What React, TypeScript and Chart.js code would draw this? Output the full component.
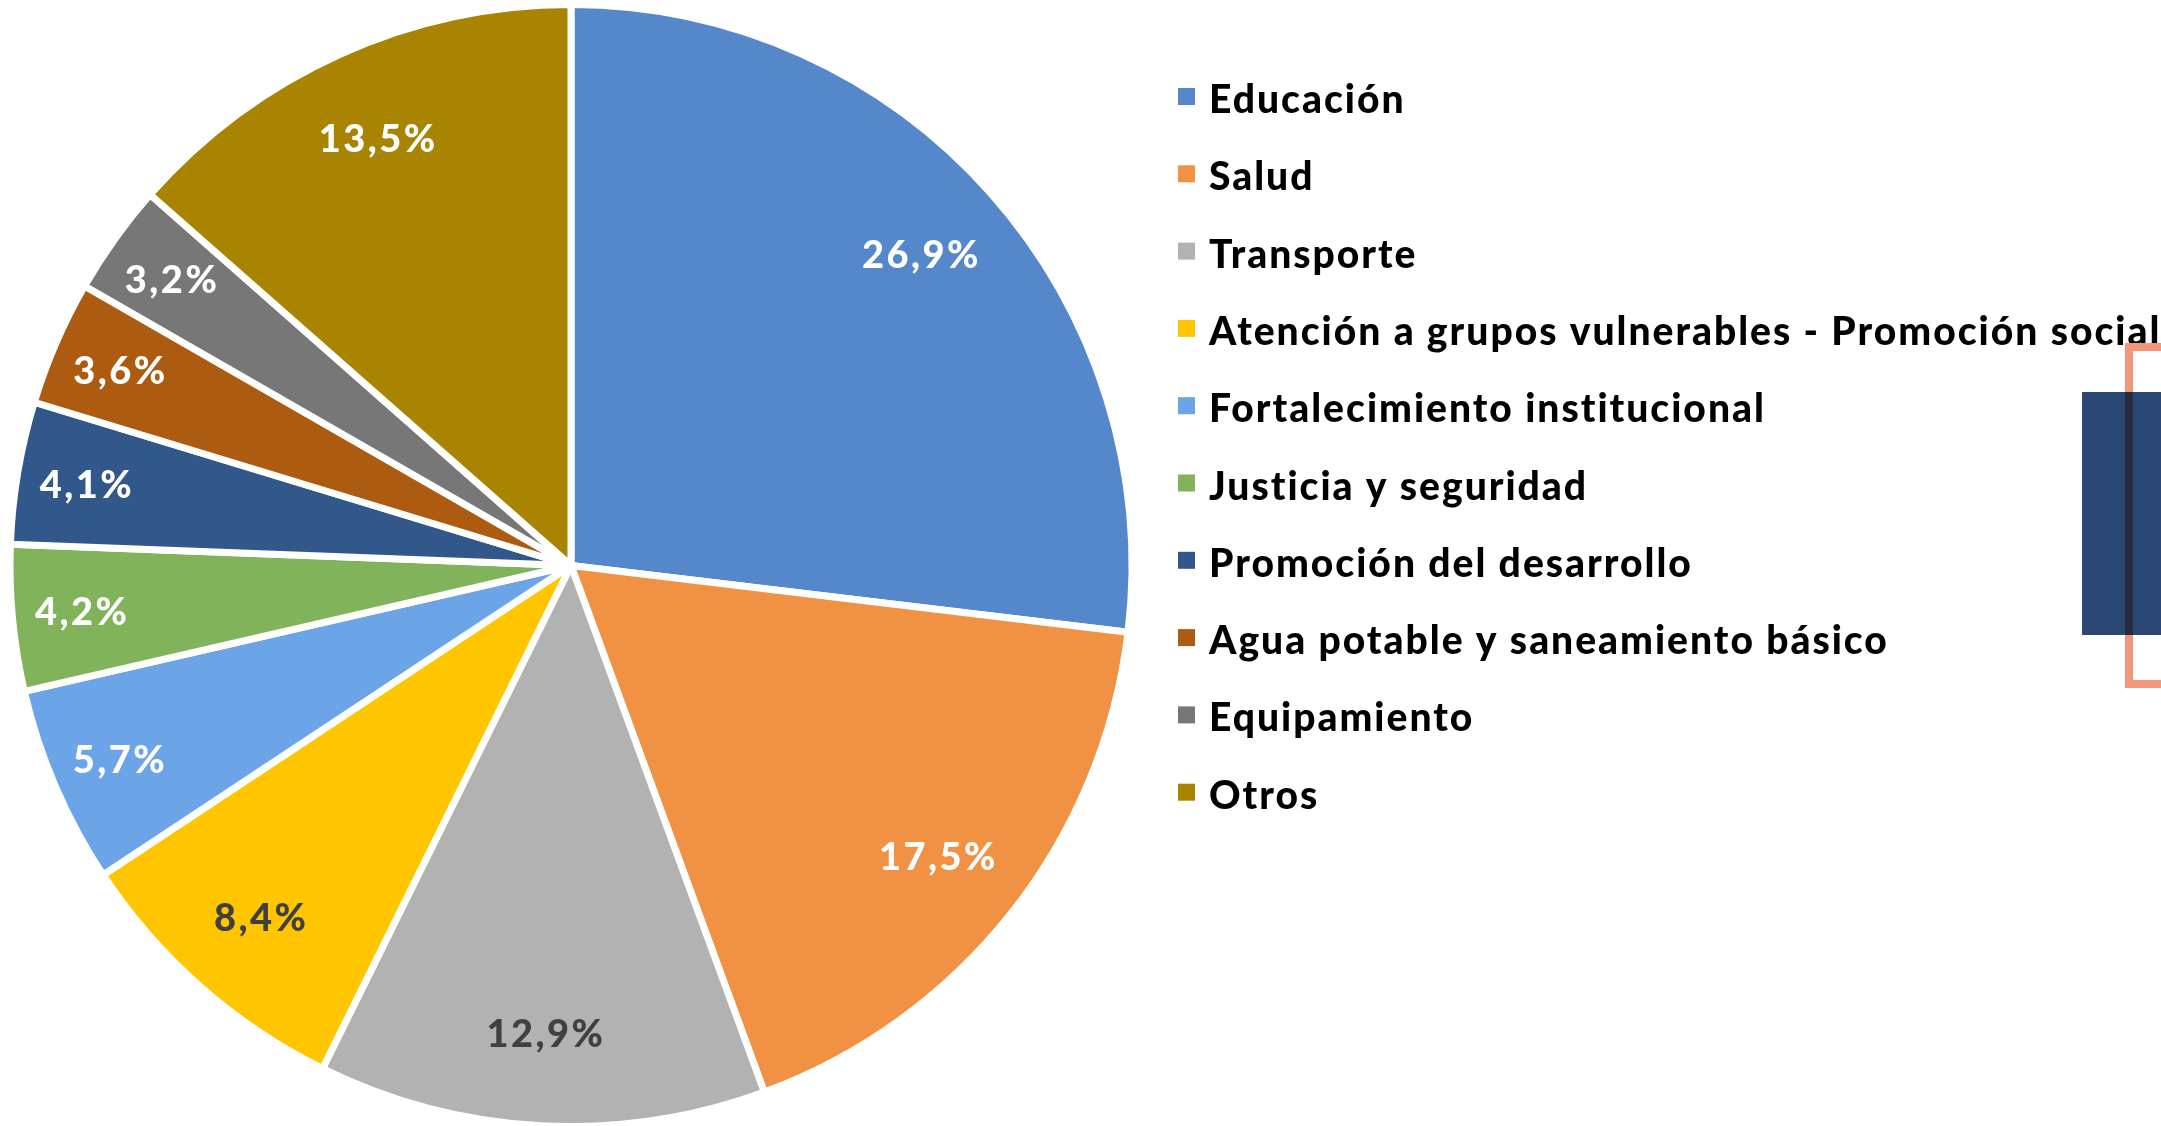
import React, { useEffect, useRef } from "react";
import { Chart, registerables } from "chart.js";

Chart.register(...registerables);

const categories = [
  "Educación",
  "Salud",
  "Transporte",
  "Atención a grupos vulnerables - Promoción social",
  "Fortalecimiento institucional",
  "Justicia y seguridad",
  "Promoción del desarrollo",
  "Agua potable y saneamiento básico",
  "Equipamiento",
  "Otros",
];
const shares = [26.9, 17.5, 12.9, 8.4, 5.7, 4.2, 4.1, 3.6, 3.2, 13.5];
const sliceColors = [
  "#5587CB",
  "#F09143",
  "#B2B2B2",
  "#FFC600",
  "#6CA4E8",
  "#80B35A",
  "#32588B",
  "#AD5B11",
  "#777777",
  "#A88400",
];
const labelColors = [
  "#FFFFFF",
  "#FFFFFF",
  "#404040",
  "#404040",
  "#FFFFFF",
  "#FFFFFF",
  "#FFFFFF",
  "#FFFFFF",
  "#FFFFFF",
  "#FFFFFF",
];

const FONT = "Lato, 'Noto Sans', sans-serif";
const W = 2161;
const H = 1140;

const fmt = (v: number) => v.toFixed(1).replace(".", ",") + "%";

const sliceLabels = {
  id: "sliceLabels",
  afterDatasetsDraw(chart: any) {
    const ctx = chart.ctx;
    const meta = chart.getDatasetMeta(0);
    const data = chart.data.datasets[0].data as number[];
    const size = 38;
    ctx.save();
    ctx.font = `900 ${size}px ${FONT}`;
    (ctx as any).letterSpacing = "2.5px";
    ctx.textAlign = "center";
    ctx.textBaseline = "alphabetic";
    meta.data.forEach((arc: any, i: number) => {
      const { x, y, startAngle, endAngle, outerRadius } = arc.getProps(
        ["x", "y", "startAngle", "endAngle", "outerRadius"],
        true
      );
      const mid = (startAngle + endAngle) / 2;
      const r = outerRadius * (data[i] >= 8 ? 0.835 : 0.875);
      ctx.fillStyle = labelColors[i];
      ctx.fillText(
        fmt(data[i]),
        x + Math.cos(mid) * r,
        y + Math.sin(mid) * r + size * 0.36
      );
    });
    ctx.restore();
  },
};

const sideLegend = {
  id: "sideLegend",
  afterDraw(chart: any) {
    const ctx = chart.ctx;
    const labels = chart.data.labels as string[];
    const colors = chart.data.datasets[0].backgroundColor as string[];
    const x0 = 1178;
    const y0 = 99;
    const step = 77.3;
    ctx.save();
    ctx.font = `900 39px ${FONT}`;
    (ctx as any).letterSpacing = "2px";
    ctx.textAlign = "left";
    ctx.textBaseline = "alphabetic";
    labels.forEach((lab, i) => {
      const cy = y0 + i * step;
      ctx.fillStyle = colors[i];
      ctx.fillRect(x0, cy - 11, 17, 17);
      ctx.fillStyle = "#000000";
      ctx.fillText(lab, x0 + 31, cy + 14);
    });
    ctx.restore();
  },
};

export default function App() {
  const ref = useRef<HTMLCanvasElement | null>(null);
  useEffect(() => {
    if (!ref.current) return;
    const chart = new Chart(ref.current, {
      type: "pie",
      data: {
        labels: categories,
        datasets: [
          {
            data: shares,
            backgroundColor: sliceColors,
            borderColor: "#FFFFFF",
            borderWidth: 7,
          },
        ],
      },
      options: {
        responsive: false,
        animation: false,
        devicePixelRatio: 1,
        layout: {
          padding: { left: 6.5, top: 1, right: W - 6.5 - 1129, bottom: H - 1 - 1129 },
        },
        plugins: {
          legend: { display: false },
          tooltip: { enabled: false },
        },
      },
      plugins: [sliceLabels, sideLegend],
    });
    return () => chart.destroy();
  }, []);

  return (
    <div
      style={{
        position: "fixed",
        left: 0,
        top: 0,
        width: W,
        height: 1126,
        overflow: "hidden",
        background: "#FFFFFF",
      }}
    >
      <canvas ref={ref} width={W} height={H} style={{ position: "absolute", left: 0, top: 0 }} />
      <div
        style={{
          position: "absolute",
          left: 2125,
          top: 343,
          width: 60,
          height: 345,
          boxSizing: "border-box",
          border: "8px solid #F1967B",
        }}
      />
      <div
        style={{
          position: "absolute",
          left: 2082,
          top: 392,
          width: 100,
          height: 243,
          background: "#2B4773",
        }}
      />
      <div
        style={{
          position: "absolute",
          left: 2125,
          top: 392,
          width: 8,
          height: 243,
          background: "#282A3D",
        }}
      />
    </div>
  );
}
